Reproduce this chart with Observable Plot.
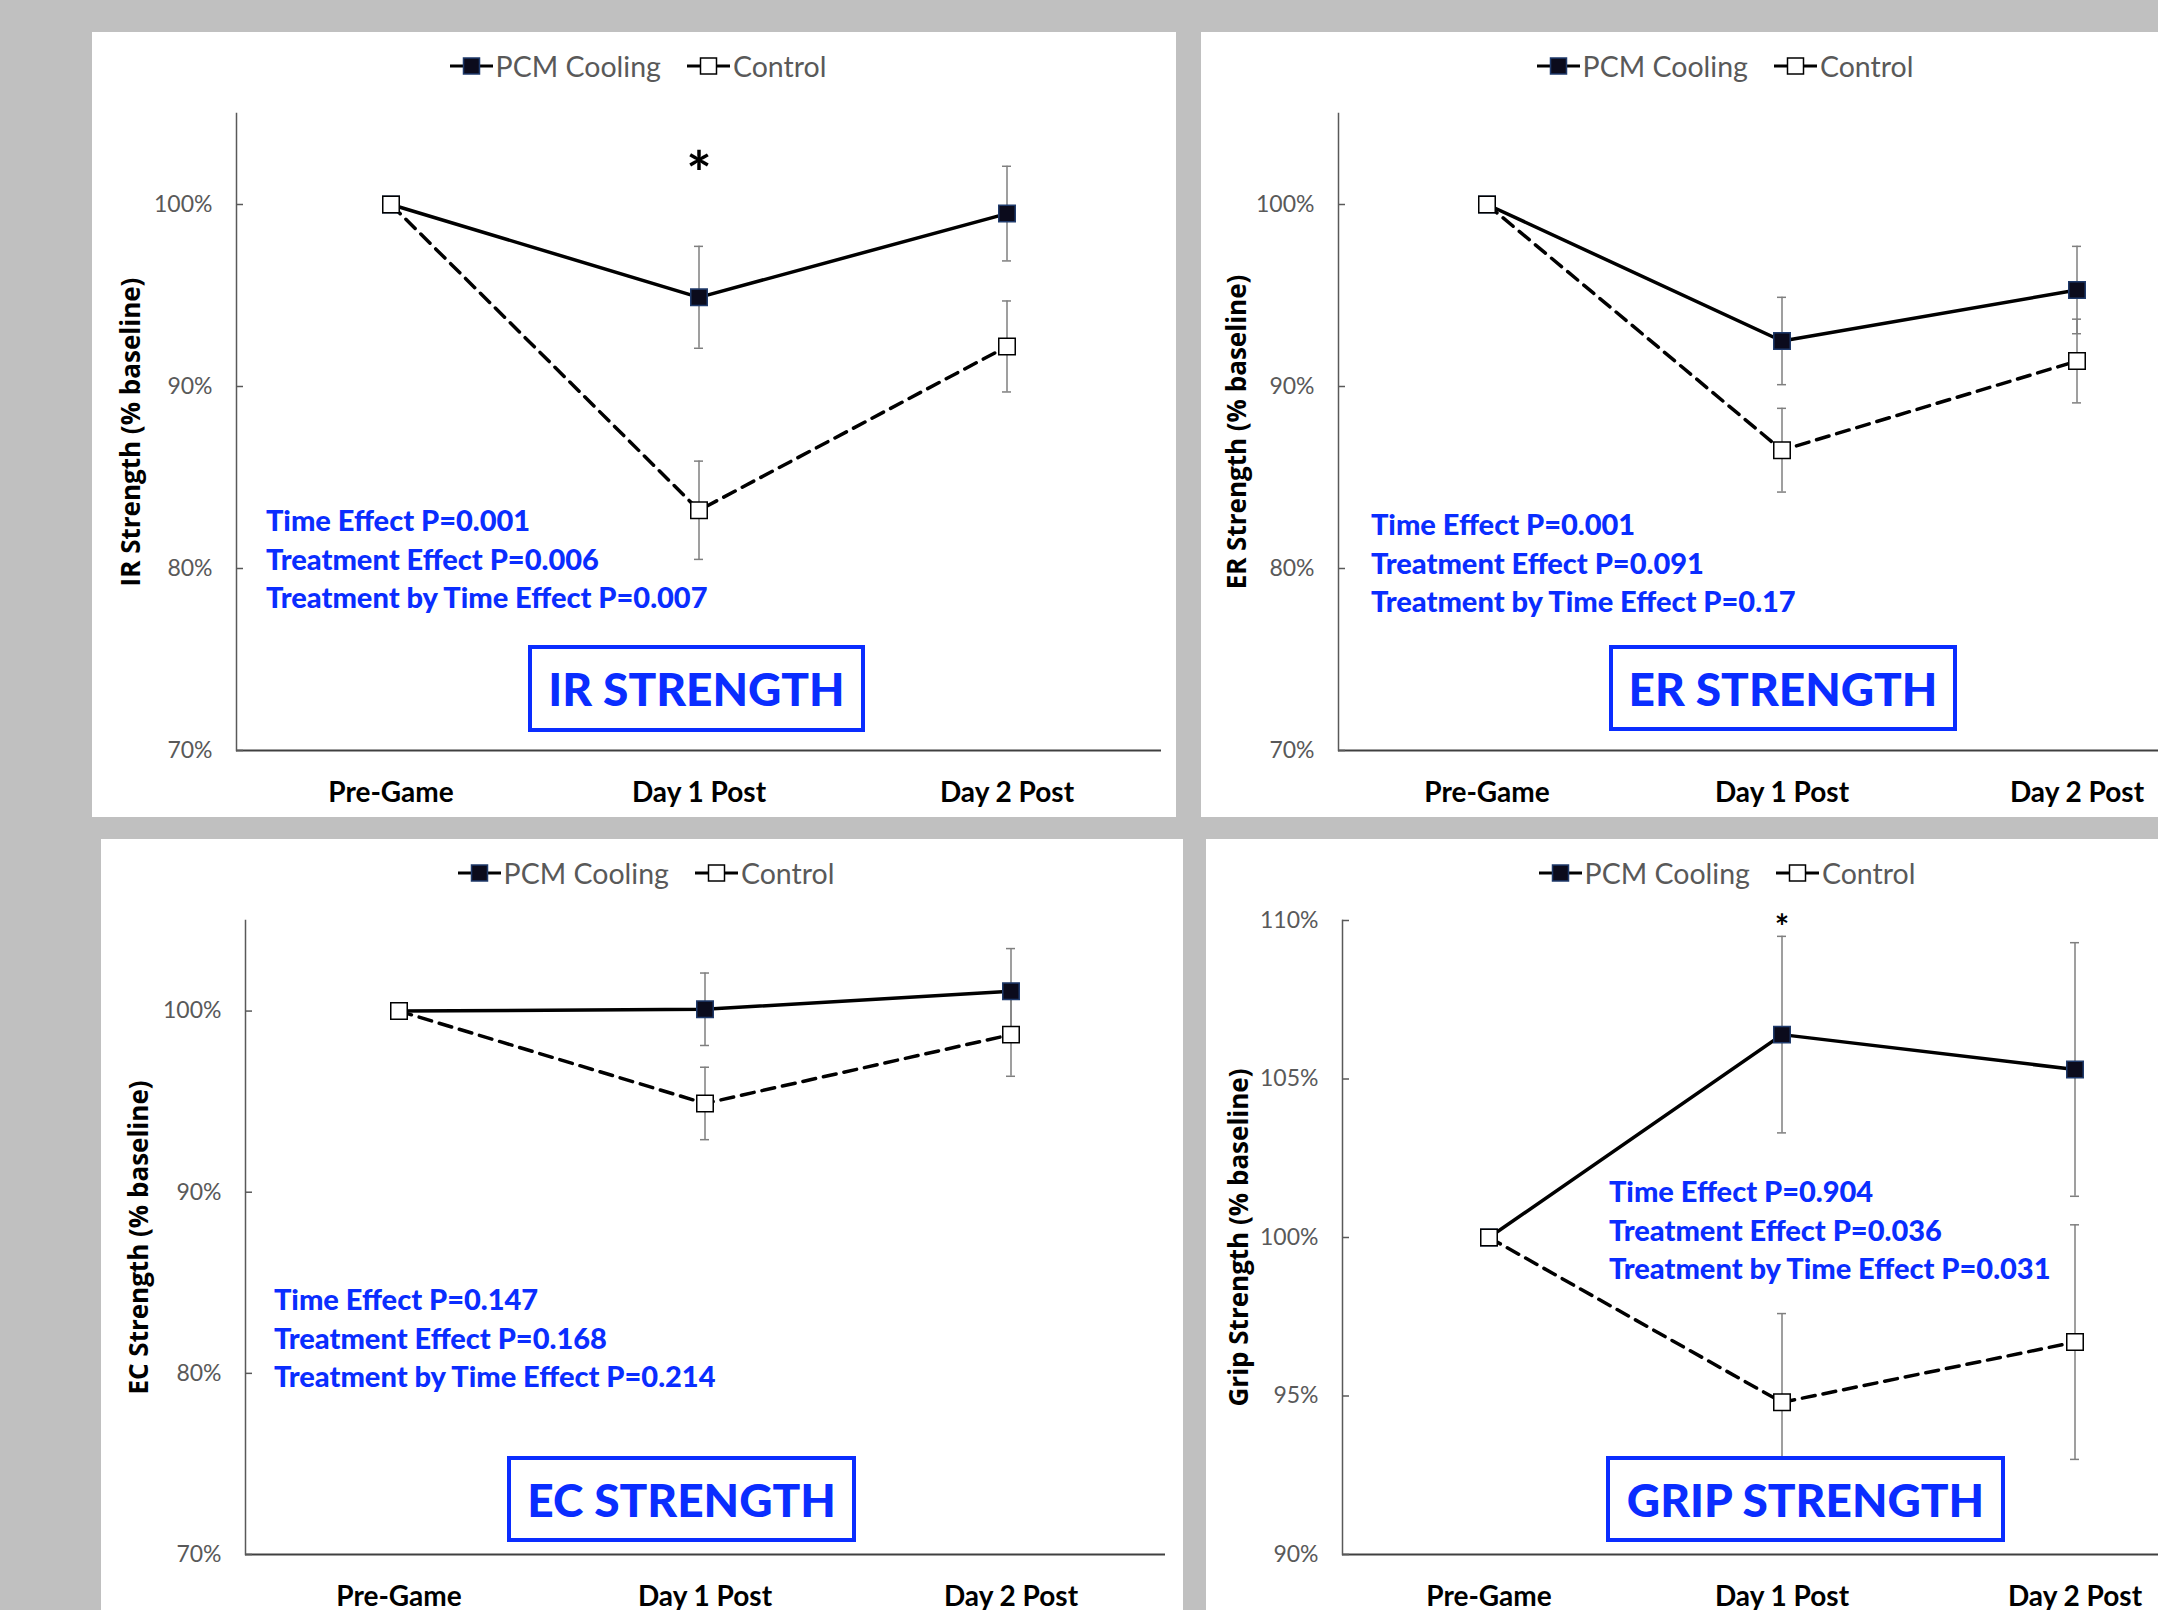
<!DOCTYPE html>
<html>
<head>
<meta charset="utf-8">
<script src="https://cdn.jsdelivr.net/npm/d3@7"></script>
<script src="https://cdn.jsdelivr.net/npm/@observablehq/plot@0.6"></script>
<style>
html, body { margin: 0; padding: 0; background: #c0c0c0; width: 2158px; height: 1610px; overflow: hidden; }
.panel { position: absolute; background: #fff; overflow: hidden; }
.panel > svg { position: absolute; left: 0; top: 0; }
.legend { position: absolute; left: 0; right: 0; top: 14px; height: 40px; padding-left: 8px; display: flex; justify-content: center; align-items: center; gap: 26px; font-family: Lato, sans-serif; font-size: 28.5px; color: #595959; }
.legend .item { display: flex; align-items: center; gap: 3px; }
.legend svg { position: static; }
.stats { position: absolute; font-family: Lato, sans-serif; font-weight: 900; font-size: 29px; line-height: 38.5px; color: #0a2dff; white-space: nowrap; }
.tag { position: absolute; box-sizing: border-box; border: 4px solid #0a2dff; background: #fff; color: #0a2dff; font-family: Lato, sans-serif; font-weight: 900; font-size: 46px; display: flex; align-items: center; justify-content: center; white-space: nowrap; }
</style>
</head>
<body>
<script>
// ---------- data ----------
const timepoints = ["Pre-Game", "Day 1 Post", "Day 2 Post"];
const series = ["PCM Cooling", "Control"];

const irPCM = [100, 94.9, 99.5];
const irPCMErr = [0, 2.8, 2.6];
const irControl = [100, 83.2, 92.2];
const irControlErr = [0, 2.7, 2.5];

const erPCM = [100, 92.5, 95.3];
const erPCMErr = [0, 2.4, 2.4];
const erControl = [100, 86.5, 91.4];
const erControlErr = [0, 2.3, 2.3];

const ecPCM = [100, 100.1, 101.1];
const ecPCMErr = [0, 2.0, 2.35];
const ecControl = [100, 94.9, 98.7];
const ecControlErr = [0, 2.0, 2.3];

const gripPCM = [100, 106.4, 105.3];
const gripPCMErr = [0, 3.1, 4.0];
const gripControl = [100, 94.8, 96.7];
const gripControlErr = [0, 2.8, 3.7];

const ticks70 = [70, 80, 90, 100];
const ticks90 = [90, 95, 100, 105, 110];

const irStats = ["Time Effect P=0.001", "Treatment Effect P=0.006", "Treatment by Time Effect P=0.007"];
const erStats = ["Time Effect P=0.001", "Treatment Effect P=0.091", "Treatment by Time Effect P=0.17"];
const ecStats = ["Time Effect P=0.147", "Treatment Effect P=0.168", "Treatment by Time Effect P=0.214"];
const gripStats = ["Time Effect P=0.904", "Treatment Effect P=0.036", "Treatment by Time Effect P=0.031"];

const titles = ["IR STRENGTH", "ER STRENGTH", "EC STRENGTH", "GRIP STRENGTH"];
const yLabels = ["IR Strength (% baseline)", "ER Strength (% baseline)", "EC Strength (% baseline)", "Grip Strength (% baseline)"];

// significance markers (timepoint, y position of the asterisk in % units)
const irStars = [{time: "Day 1 Post", y: 101.55}];
const gripStars = [{time: "Day 1 Post", y: 109.77}];

// ---------- assembled panel specs ----------
const panels = [
  {values: [irPCM, irControl], errs: [irPCMErr, irControlErr], domain: [70, 105], ticks: ticks70, stats: irStats, title: titles[0], ylabel: yLabels[0], stars: irStars, starSize: 60},
  {values: [erPCM, erControl], errs: [erPCMErr, erControlErr], domain: [70, 105], ticks: ticks70, stats: erStats, title: titles[1], ylabel: yLabels[1], stars: [], starSize: 60},
  {values: [ecPCM, ecControl], errs: [ecPCMErr, ecControlErr], domain: [70, 105], ticks: ticks70, stats: ecStats, title: titles[2], ylabel: yLabels[2], stars: [], starSize: 60},
  {values: [gripPCM, gripControl], errs: [gripPCMErr, gripControlErr], domain: [90, 110], ticks: ticks90, stats: gripStats, title: titles[3], ylabel: yLabels[3], stars: gripStars, starSize: 34}
];

// ---------- layout ----------
const layout = [
  {left: 92, top: 32, width: 1084, height: 785, mL: 144, mR: 15, mT: 81, mB: 67, labelOffset: 115, stats: {left: 174, top: 469}, tag: {left: 436, top: 613, width: 337, height: 87}},
  {left: 1201, top: 32, width: 1040, height: 785, mL: 137, mR: 17, mT: 81, mB: 67, labelOffset: 111, stats: {left: 170, top: 473}, tag: {left: 408, top: 613, width: 348, height: 86}},
  {left: 101, top: 839, width: 1082, height: 790, mL: 144, mR: 18, mT: 81, mB: 75, labelOffset: 116, stats: {left: 173, top: 441}, tag: {left: 406, top: 617, width: 349, height: 86}},
  {left: 1206, top: 839, width: 1034, height: 790, mL: 136, mR: 19, mT: 81, mB: 75, labelOffset: 113, stats: {left: 403, top: 333}, tag: {left: 400, top: 617, width: 399, height: 86}}
];

const PCM_FILL = "#0b0b1c";
const PCM_STROKE = "#1f3a6b";
const BAND_PAD = 0.97;

function makeChart(d, L) {
  const rows = [];
  series.forEach((s, si) => timepoints.forEach((t, i) => rows.push({series: s, time: t, value: d.values[si][i], err: d.errs[si][i]})));
  const pcm = rows.filter(r => r.series === series[0]);
  const ctl = rows.filter(r => r.series === series[1]);
  const bars = rows.filter(r => r.err > 0);
  const errStyle = {stroke: "#7f7f7f", strokeWidth: 1.5};
  return Plot.plot({
    width: L.width, height: L.height,
    marginLeft: L.mL, marginRight: L.mR, marginTop: L.mT, marginBottom: L.mB,
    style: {background: "transparent", overflow: "visible"},
    x: {type: "band", domain: timepoints, paddingInner: BAND_PAD, paddingOuter: BAND_PAD / 2},
    y: {domain: d.domain},
    marks: [
      Plot.ruleY([d.domain[0]], {stroke: "#404040", strokeWidth: 2}),
      Plot.frame({anchor: "left", stroke: "#595959", strokeWidth: 1.5}),
      Plot.axisX({tickSize: 0, tickPadding: 32, fontFamily: "Lato", fontWeight: 700, fontSize: 28, fill: "#000", label: null}),
      Plot.axisY(d.ticks, {tickSize: 0, tickPadding: 24, tickFormat: v => v + "%", fontFamily: "Lato", fontSize: 23, fill: "#595959", label: null}),
      Plot.axisY(d.ticks, {tickSize: -7, stroke: "#595959", strokeWidth: 1.5, tickFormat: () => "", label: d.ylabel, labelArrow: "none", labelAnchor: "center", labelOffset: L.labelOffset, fontFamily: "Open Sans", fontWeight: 700, fontSize: 26, fill: "#000"}),
      Plot.ruleX(bars, {x: "time", y1: r => r.value - r.err, y2: r => r.value + r.err, ...errStyle}),
      Plot.tickY(bars, {x: "time", y: r => r.value + r.err, ...errStyle}),
      Plot.tickY(bars, {x: "time", y: r => r.value - r.err, ...errStyle}),
      Plot.line(pcm, {x: "time", y: "value", stroke: "#000", strokeWidth: 3.5}),
      Plot.line(ctl, {x: "time", y: "value", stroke: "#000", strokeWidth: 3.5, strokeDasharray: "13,8"}),
      Plot.dot(pcm, {x: "time", y: "value", symbol: "square", r: 9.3, fill: PCM_FILL, stroke: PCM_STROKE, strokeWidth: 1.5}),
      Plot.dot(ctl, {x: "time", y: "value", symbol: "square", r: 9.3, fill: "#fff", stroke: "#000", strokeWidth: 1.5}),
      Plot.text(d.stars, {x: "time", y: "y", text: () => "*", fontSize: d.starSize, fontWeight: 700, fontFamily: "Lato", fill: "#000"})
    ]
  });
}

function swatch(filled) {
  const fill = filled ? PCM_FILL : "#fff";
  const stroke = filled ? PCM_STROKE : "#000";
  return `<svg width="43" height="22" viewBox="0 0 43 22"><line x1="0" x2="43" y1="11" y2="11" stroke="#000" stroke-width="3"/><rect x="13.5" y="3" width="16" height="16" fill="${fill}" stroke="${stroke}" stroke-width="1.5"/></svg>`;
}

panels.forEach((d, i) => {
  const L = layout[i];
  const div = document.createElement("div");
  div.className = "panel";
  Object.assign(div.style, {left: L.left + "px", top: L.top + "px", width: L.width + "px", height: L.height + "px"});
  document.body.appendChild(div);
  div.appendChild(makeChart(d, L));

  const legend = document.createElement("div");
  legend.className = "legend";
  legend.innerHTML = series.map((s, si) => `<span class="item">${swatch(si === 0)}<span>${s}</span></span>`).join("");
  div.appendChild(legend);

  const stats = document.createElement("div");
  stats.className = "stats";
  Object.assign(stats.style, {left: L.stats.left + "px", top: L.stats.top + "px"});
  stats.innerHTML = d.stats.map(t => `<div>${t}</div>`).join("");
  div.appendChild(stats);

  const tag = document.createElement("div");
  tag.className = "tag";
  Object.assign(tag.style, {left: L.tag.left + "px", top: L.tag.top + "px", width: L.tag.width + "px", height: L.tag.height + "px"});
  tag.textContent = d.title;
  div.appendChild(tag);
});
</script>
</body>
</html>
